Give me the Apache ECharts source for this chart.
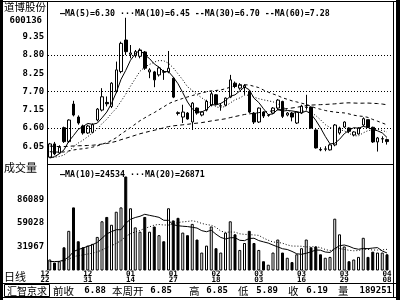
<!DOCTYPE html>
<html><head><meta charset="utf-8">
<script src="https://cdn.jsdelivr.net/npm/echarts/dist/echarts.min.js"></script>
<style>html,body{margin:0;padding:0;background:#fff}#c{width:400px;height:300px}</style>
</head><body><div id="c"></div>
<script>
// ---------------- data ----------------
const labelIdx  = [0, 9, 18, 27, 36, 45, 54, 63, 72];
const labelText = ['12\n22','12\n31','01\n14','01\n27','02\n18','03\n03','03\n16','03\n29','04\n08'];

const opens  = [5.72,6.12,5.85,6.61,6.19,7.32,6.93,6.66,6.45,6.47,6.84,7.14,7.37,7.25,7.70,8.30,9.25,8.82,8.78,8.76,8.89,8.29,8.29,8.20,8.30,8.29,
                8.10,7.06,6.93,7.05,6.78,7.20,6.99,7.14,7.29,7.60,7.26,7.29,7.53,7.95,7.80,7.82,7.71,7.05,6.78,7.08,6.98,7.05,7.20,7.40,6.99,7.05,
                6.75,7.05,7.22,7.23,6.54,5.95,5.96,5.94,6.09,6.45,6.63,6.60,6.39,6.42,6.69,6.85,6.62,6.18,6.27,6.25];
const closes = [6.12,5.82,6.02,6.19,6.84,6.99,6.75,6.45,6.66,6.70,7.17,7.54,7.33,7.95,8.35,9.15,8.90,8.86,8.90,8.95,8.40,8.35,8.05,8.41,8.28,8.40,
                7.53,7.04,7.08,6.87,7.35,7.05,7.08,7.40,7.63,7.32,7.27,7.50,8.05,7.85,7.90,7.88,7.08,6.78,7.20,6.96,6.99,7.20,7.44,6.95,7.05,6.93,
                7.08,7.26,7.23,6.60,6.00,5.94,5.97,6.09,6.69,6.60,6.78,6.50,6.48,6.60,6.88,6.62,6.18,6.30,6.28,6.19];
const highs  = [6.15,6.18,6.08,6.64,6.86,7.42,6.98,6.70,6.70,6.74,7.20,7.80,7.55,7.98,8.60,9.20,9.92,9.10,8.95,9.00,8.92,8.40,8.32,8.45,8.35,8.92,
                8.12,7.10,7.30,7.08,7.38,7.22,7.10,7.45,7.70,7.62,7.35,7.52,8.20,8.00,7.95,7.92,7.73,7.08,7.22,7.10,7.02,7.23,7.47,7.42,7.08,7.08,
                7.10,7.30,7.60,7.25,6.56,6.02,6.05,6.12,6.72,6.64,6.80,6.62,6.50,6.62,6.92,6.85,6.64,6.33,6.35,6.28];
const lows   = [5.70,5.78,5.82,6.15,6.15,6.95,6.70,6.40,6.42,6.44,6.80,7.10,7.25,7.20,7.65,8.25,8.80,8.70,8.72,8.70,8.35,8.10,7.83,8.15,8.05,8.25,
                7.50,6.98,6.75,6.85,6.54,7.00,6.95,7.10,7.25,7.28,7.12,7.25,7.50,7.80,7.75,7.60,7.05,6.72,6.75,6.90,6.94,7.02,7.15,6.90,6.95,6.80,
                6.72,7.02,7.15,6.58,5.98,5.90,5.90,5.92,6.05,6.40,6.60,6.45,6.35,6.40,6.65,6.60,6.15,5.89,6.15,6.10];
const volumes = [17000,13500,15000,31000,50000,77000,38000,31000,33000,35000,43000,61000,66000,57000,72000,77000,112600,76000,54000,49000,66000,49000,55000,45000,38000,76000,
                 62000,65000,48000,45000,58000,40000,25000,33000,55000,30000,25000,48000,61000,46000,28000,36000,50000,36000,28000,15000,11000,25000,40000,25000,19000,14000,
                 23000,30000,40000,31000,32000,23000,19000,20000,64000,46000,32000,15000,17000,20000,42000,20000,26000,25000,25000,23000];
// closes / volumes before the first visible bar (for the moving averages)
const priorCloses = [6.35,6.30,6.28,6.32,6.40,6.38,6.33,6.30,6.25,6.28,6.30,6.26,6.22,6.20,6.24,6.27,6.22,6.18,6.15,6.19,
                     6.21,6.17,6.12,6.10,6.14,6.18,6.15,6.10,6.05,6.08,6.12,6.10,6.05,6.00,6.03,6.07,6.02,5.98,5.95,5.99,
                     6.02,5.97,5.92,5.88,5.91,5.94,5.90,5.85,5.80,5.84,5.86,5.80,5.74,5.70,5.66,5.62,5.58,5.60,5.55];
const priorVolumes = [15000,14000,16000,13000,15000,17000,14000,12000,16000,15000,14000,13000,15000,16000,14000,15000,13000,14000,16000];

const priceTickLabels = ['6.05','6.60','7.15','7.70','8.25','8.80','9.35'];
const priceGridLines  = [6.60, 7.70, 8.80];
const volTickLabels   = ['31967','59028','86089'];
const priceMaNames  = ['MA(5)','MA(10)','MA(30)','MA(60)'];
const priceMaValues = ['6.30','6.45','6.70','7.28'];
const volMaNames    = ['MA(10)','MA(20)'];
const volMaValues   = ['24534','26871'];
const stockName = '道博股份';
const stockCode = '600136';
const statusTitle  = '汇智京求';
const statusLabels = ['前收','本周开','高','低','收','量'];
const statusValues = ['6.88','6.85','6.85','5.89','6.19','189251'];
const periodLabel = '日线';
const volLabel = '成交量';

// ---------------- chart ----------------
const N = closes.length + 1;
const cats = Array.from({length: N}, (_, i) => String(i));
const candleData = [['-','-','-','-']].concat(opens.map((o, i) => [o, closes[i], lows[i], highs[i]]));
function movingAvg(prior, vals, n) {
  const all = prior.concat(vals); const out = ['-'];
  for (let k = 0; k < vals.length; k++) {
    const end = prior.length + k; let s = 0;
    for (let j = end - n + 1; j <= end; j++) s += all[j];
    out.push(+(s / n).toFixed(3));
  }
  return out;
}
const up = closes.map((c, i) => c >= opens[i]);
const volData = ['-'].concat(volumes.map((v, i) => ({
  value: v,
  itemStyle: up[i] ? {color: '#fff', borderColor: '#000', borderWidth: 1} : {color: '#000', borderColor: '#000', borderWidth: 1}
})));

const mono = 'DejaVu Sans Mono';
const cjk = 'Noto Sans CJK SC';
const GL = 42.625, GW = 346.75;

function maLine(name, data, xi, yi, type) {
  return {type: 'line', name, data, xAxisIndex: xi, yAxisIndex: yi, symbol: 'none', silent: true,
    lineStyle: {color: '#000', width: 1, type}, z: 3};
}

const chart = echarts.init(document.getElementById('c'), null, {renderer: 'canvas'});
const option = {
  animation: false,
  backgroundColor: '#fff',
  textStyle: {fontFamily: mono},
  grid: [
    {left: GL, width: GW, top: 0.2, height: 164.3, outerBoundsMode: 'none'},
    {left: GL, width: GW, top: 176, height: 94, outerBoundsMode: 'none'}
  ],
  xAxis: [
    {type: 'category', gridIndex: 0, data: cats, boundaryGap: true,
     axisLine: {show: false}, axisTick: {show: false}, axisLabel: {show: false}, splitLine: {show: false}},
    {type: 'category', gridIndex: 1, data: cats, boundaryGap: true,
     axisLine: {show: false}, axisTick: {show: false}, splitLine: {show: false},
     axisLabel: {show: true, interval: (idx) => labelIdx.includes(idx),
       formatter: (v, idx) => { const k = labelIdx.indexOf(idx); return k >= 0 ? labelText[k] : ''; },
       fontFamily: mono, fontWeight: 'bold', fontSize: 7.5, lineHeight: 6, color: '#000', margin: 1}}
  ],
  yAxis: [
    {type: 'value', gridIndex: 0, min: 5.5, max: 10.45, interval: 0.55, offset: -3,
     axisLine: {show: false}, axisTick: {show: false}, splitLine: {show: false},
     axisLabel: {formatter: (v) => priceTickLabels.includes(v.toFixed(2)) ? v.toFixed(2) : '',
       fontFamily: mono, fontWeight: 'bold', fontSize: 9, color: '#000', margin: 1.5}},
    {type: 'value', gridIndex: 1, min: 4906, max: 113150, interval: 27061, offset: -3,
     axisLine: {show: false}, axisTick: {show: false}, splitLine: {show: false},
     axisLabel: {formatter: (v) => volTickLabels.includes(String(Math.round(v))) ? String(Math.round(v)) : '',
       fontFamily: mono, fontWeight: 'bold', fontSize: 9, color: '#000', margin: 1.5}}
  ],
  series: [
    {type: 'candlestick', data: candleData, xAxisIndex: 0, yAxisIndex: 0, barWidth: 3, silent: true, z: 2,
     itemStyle: {color: '#fff', color0: '#000', borderColor: '#000', borderColor0: '#000', borderWidth: 1}},
    maLine('ma5',  movingAvg(priorCloses, closes, 5),  0, 0, 'solid'),
    maLine('ma10', movingAvg(priorCloses, closes, 10), 0, 0, [1, 2]),
    maLine('ma30', movingAvg(priorCloses, closes, 30), 0, 0, [3, 3]),
    maLine('ma60', movingAvg(priorCloses, closes, 60), 0, 0, [4, 3]),
    {type: 'bar', data: volData, xAxisIndex: 1, yAxisIndex: 1, barWidth: 3, silent: true, z: 2},
    maLine('vma10', movingAvg(priorVolumes, volumes, 10), 1, 1, 'solid'),
    maLine('vma20', movingAvg(priorVolumes, volumes, 20), 1, 1, [1, 2])
  ]
};
chart.setOption(option);

// ---------------- frame, grid lines and texts ----------------
function ln(x1, y1, x2, y2, w, dash) {
  return {type: 'line', silent: true, z: 100, shape: {x1, y1, x2, y2},
    style: {stroke: '#000', lineWidth: w || 1, lineDash: dash || null}};
}
function rc(x, y, w, h, fill, stroke) {
  return {type: 'rect', silent: true, z: 100, shape: {x, y, width: w, height: h},
    style: {fill: fill || null, stroke: stroke || null, lineWidth: 1}};
}
function tx(x, y, t, font, size, align, weight) {
  return {type: 'text', silent: true, z: 101, x, y,
    style: {text: t, fill: '#000', font: (weight || 'normal') + ' ' + size + 'px "' + font + '"',
      textAlign: align || 'left', textVerticalAlign: 'middle'}};
}
const g = [];
g.push(rc(0, 0, 3, 300, '#000'));
g.push(rc(396, 0, 4, 300, '#000'));
g.push(ln(3, 1.5, 396, 1.5));
g.push(ln(47.5, 2, 47.5, 270));
g.push(ln(393.5, 2, 393.5, 298));
g.push(ln(47, 164.5, 393, 164.5));
g.push(ln(3, 283.5, 396, 283.5));
g.push(ln(3, 297.5, 396, 297.5));
priceGridLines.forEach(v => {
  const y = Math.round(chart.convertToPixel({yAxisIndex: 0}, v)) + 0.5;
  g.push(ln(48, y, 393, y, 1, [1, 2]));
});
g.push(tx(4, 7.5, stockName, cjk, 10.5, 'left'));
g.push(tx(42, 21, stockCode, mono, 9, 'right', 'bold'));
const markers = ['—', '···', '--', '--'];
g.push(tx(60, 14, priceMaNames.map((n, i) => markers[i] + n + '=' + priceMaValues[i]).join(' '), mono, 8.3, 'left', 'bold'));
g.push(tx(4, 168, volLabel, cjk, 11, 'left'));
g.push(tx(60, 175, volMaNames.map((n, i) => markers[i] + n + '=' + volMaValues[i]).join(' '), mono, 8.3, 'left', 'bold'));
g.push(tx(4, 277, periodLabel, cjk, 11, 'left'));
// status bar
g.push(rc(4.5, 284.5, 45, 12, null, '#000'));
g.push(tx(27, 291, statusTitle, cjk, 10, 'center'));
const labX = [53, 112, 189, 238, 288, 338];
const valRight = [106, 172, 228, 278, 328, 392];
statusLabels.forEach((s, i) => {
  g.push(tx(labX[i], 291, s, cjk, 10.5, 'left'));
  g.push(tx(valRight[i], 291, statusValues[i], mono, 9, 'right', 'bold'));
});
chart.setOption({graphic: g});
</script>
</body></html>
